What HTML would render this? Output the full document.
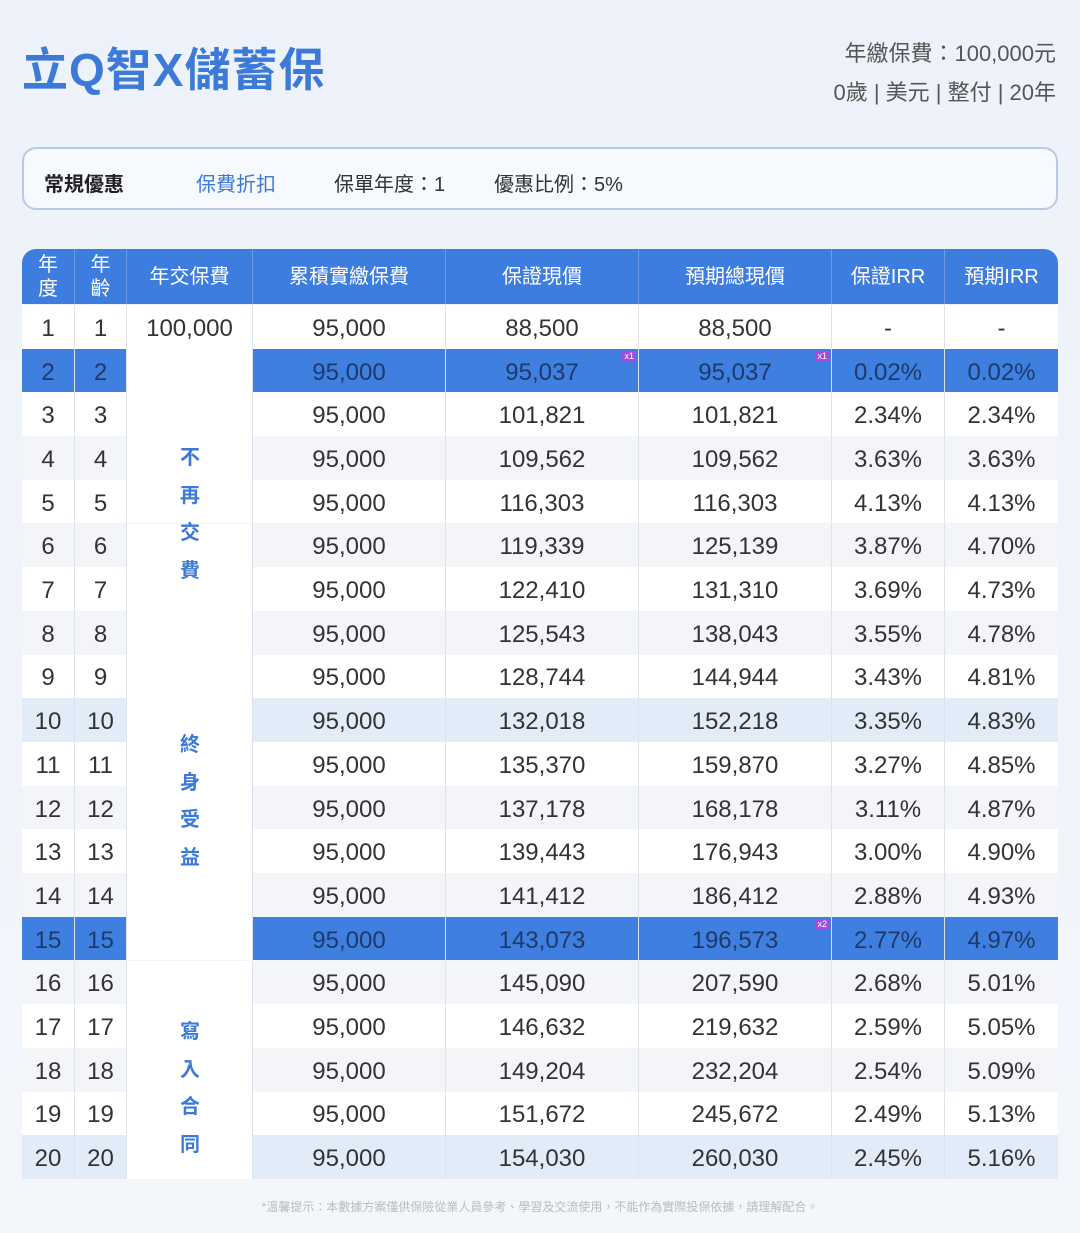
<!DOCTYPE html>
<html><head><meta charset="utf-8"><style>
*{margin:0;padding:0;box-sizing:border-box}
body{width:1080px;height:1233px;background:linear-gradient(180deg,#edf2fa,#f3f6fb);font-family:"Liberation Sans","Noto Sans CJK TC",sans-serif;position:relative;overflow:hidden;color:#333}
.a{position:absolute}
.title{left:22px;top:34px;font-size:46px;font-weight:bold;color:#3d7ad8;letter-spacing:1px}
.tr{right:24px;text-align:right;font-size:22px;color:#555}
.promo{left:22px;top:147px;width:1036px;height:63px;border:2px solid #b7cbe6;border-radius:14px;background:#f6f9fd;font-size:20px}
.promo span{position:absolute;top:19px}
.hdr{left:22px;top:249px;width:1036px;height:55px;background:#3e7de0;border-radius:14px 14px 0 0}
.hc{position:absolute;top:0;height:55px;color:#fff;font-size:20px;display:flex;align-items:center;justify-content:center;text-align:center;line-height:24px;border-right:1px solid #6b9be6}
.row{position:absolute;left:22px;width:1036px;height:43.7px}
.c{position:absolute;top:0;height:100%;display:flex;align-items:center;justify-content:center;font-size:24px;border-right:1px solid #dde3ec;padding-top:4px}
.vt{position:absolute;left:178px;width:24px;color:#3d7ad8;font-size:20px;font-weight:bold;line-height:37.5px;text-align:center}
.x{position:absolute;top:2px;font-size:9px;background:#a24be0;color:#fff;padding:0 2px;line-height:11px}
</style></head><body>
<div class="a title">立Q智X儲蓄保</div>
<div class="a tr" style="top:36px">年繳保費：100,000元</div>
<div class="a tr" style="top:75px">0歲 | 美元 | 整付 | 20年</div>
<div class="a promo"><span style="left:20px;font-weight:bold;color:#222">常規優惠</span><span style="left:172px;color:#3d7ad8">保費折扣</span><span style="left:310px">保單年度：1</span><span style="left:470px">優惠比例：5%</span></div>
<div class="a hdr">
<div class="hc" style="left:0;width:53px">年<br>度</div>
<div class="hc" style="left:53px;width:52px">年<br>齡</div>
<div class="hc" style="left:105px;width:126px">年交保費</div>
<div class="hc" style="left:231px;width:193px">累積實繳保費</div>
<div class="hc" style="left:424px;width:193px">保證現價</div>
<div class="hc" style="left:617px;width:193px">預期總現價</div>
<div class="hc" style="left:810px;width:113px">保證IRR</div>
<div class="hc" style="left:923px;width:113px;border:none">預期IRR</div>
</div>
<div id="t"></div>
<div class="vt" style="top:440px">不<br>再<br>交<br>費</div>
<div class="vt" style="top:727px">終<br>身<br>受<br>益</div>
<div class="vt" style="top:1014px">寫<br>入<br>合<br>同</div>
<div class="a" style="left:0;width:1080px;top:1198px;text-align:center;font-size:12px;color:#bbb">*溫馨提示：本數據方案僅供保險從業人員參考、學習及交流使用，不能作為實際投保依據，請理解配合。</div>
<script>
var g=[88500,95037,101821,109562,116303,119339,122410,125543,128744,132018,135370,137178,139443,141412,143073,145090,146632,149204,151672,154030];
var e=[88500,95037,101821,109562,116303,125139,131310,138043,144944,152218,159870,168178,176943,186412,196573,207590,219632,232204,245672,260030];
var gi=["-","0.02%","2.34%","3.63%","4.13%","3.87%","3.69%","3.55%","3.43%","3.35%","3.27%","3.11%","3.00%","2.88%","2.77%","2.68%","2.59%","2.54%","2.49%","2.45%"];
var ei=["-","0.02%","2.34%","3.63%","4.70%","4.73%","4.78%","4.81%","4.83%","4.85%","4.87%","4.90%","4.93%","4.97%","5.01%","5.05%","5.09%","5.13%","5.16%"];
ei.splice(4,0,"4.13%");
var f=n=>n.toLocaleString('en-US');
var h='';
for(var i=0;i<20;i++){
var hi=(i==1||i==14),lb=(i==9||i==19);
var bg=hi?'#3f7fe0':lb?'#e2ebf8':(i%2?'#f3f5f9':'#ffffff');
var col=hi?'#1e3a6a':'#333';
var c3bg=i==0?bg:'#fff';
h+='<div class="row" style="top:'+(305+i*43.7)+'px;background:'+bg+';color:'+col+'">'+
'<div class="c" style="left:0;width:53px">'+(i+1)+'</div>'+
'<div class="c" style="left:53px;width:52px">'+(i+1)+'</div>'+
'<div class="c" style="left:105px;width:126px;background:'+c3bg+';color:#333">'+(i==0?'100,000':'')+'</div>'+
'<div class="c" style="left:231px;width:193px">95,000</div>'+
'<div class="c" style="left:424px;width:193px">'+f(g[i])+(i==1?'<span class="x" style="right:2px">x1</span>':'')+'</div>'+
'<div class="c" style="left:617px;width:193px">'+f(e[i])+(i==1?'<span class="x" style="right:2px">x1</span>':'')+(i==14?'<span class="x" style="right:2px">x2</span>':'')+'</div>'+
'<div class="c" style="left:810px;width:113px">'+gi[i]+'</div>'+
'<div class="c" style="left:923px;width:113px;border:none">'+ei[i]+'</div></div>';}
document.getElementById('t').innerHTML=h;
</script>
</body></html>
